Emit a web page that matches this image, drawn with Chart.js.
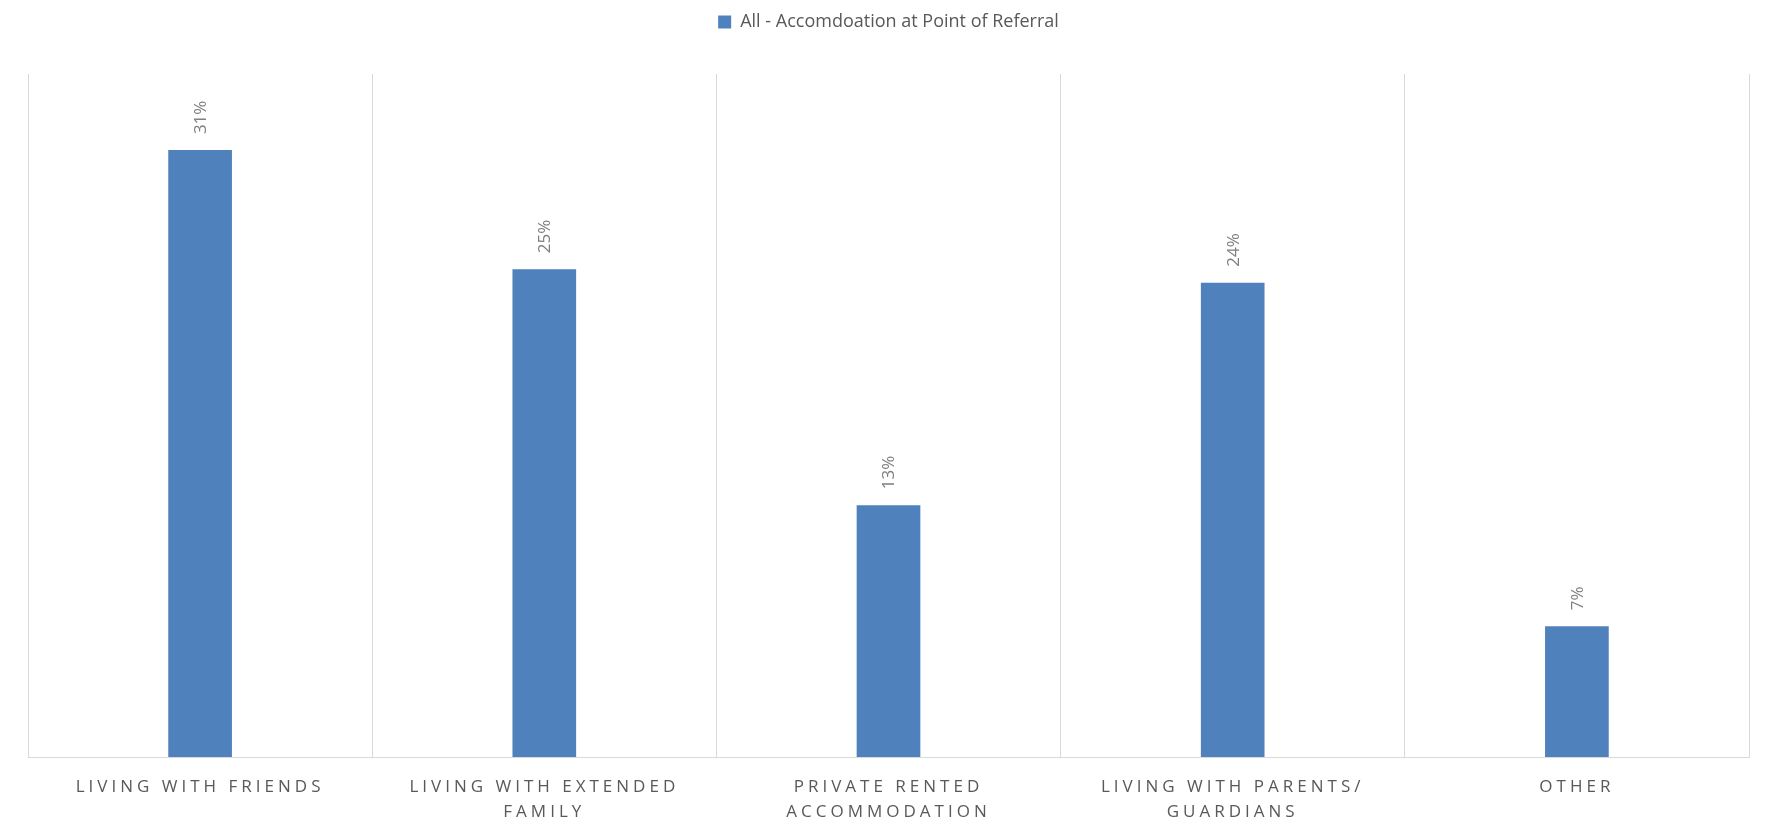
<!DOCTYPE html>
<html lang="en">
<head>
  <meta charset="UTF-8" />
  <title>Accommodation at Point of Referral</title>
  <script src="https://cdn.jsdelivr.net/npm/chart.js"></script>
  <style>
    html, body { margin: 0; padding: 0; background: #fff; overflow: hidden; }
    #wrap { width: 1766px; height: 820px; position: relative; }
  </style>
</head>
<body>

<div id="wrap">
  <canvas id="accomChart"></canvas>
</div>

<script>
// categories (wrapped onto two lines where the label is long)
const categories = [
  ['LIVING WITH FRIENDS'],
  ['LIVING WITH EXTENDED', 'FAMILY'],
  ['PRIVATE RENTED', 'ACCOMMODATION'],
  ['LIVING WITH PARENTS/', 'GUARDIANS'],
  ['OTHER']
];
const seriesName = 'All - Accomdoation at Point of Referral';
// share of referrals, in percent
const shares = [31.1, 25.0, 12.9, 24.3, 6.7];

const BAR_BLUE = '#4f81bd';
const GRID_GREY = '#d9d9d9';

// rotated value labels sitting above each bar
const barValueLabels = {
  id: 'barValueLabels',
  afterDatasetsDraw(chart) {
    const ctx = chart.ctx;
    const meta = chart.getDatasetMeta(0);
    const values = chart.data.datasets[0].data;
    ctx.save();
    ctx.font = '17px "Open Sans"';
    ctx.fillStyle = '#7f7f7f';
    ctx.textAlign = 'left';
    ctx.textBaseline = 'middle';
    meta.data.forEach((bar, i) => {
      ctx.save();
      ctx.translate(bar.x + 1, bar.y - 16);
      ctx.rotate(-Math.PI / 2);
      ctx.fillText(Math.round(values[i]) + '%', 0, 0);
      ctx.restore();
    });
    ctx.restore();
  }
};

// spaced-out capitals on the category axis, extra room under the legend
const spacedTicks = {
  id: 'spacedTicks',
  beforeLayout(chart) {
    const lg = chart.legend;
    if (lg && !lg._padded) {
      const fit = lg.fit;
      lg.fit = function () {
        fit.call(this);
        this.height += 33;
      };
      lg._padded = true;
    }
  },
  afterLayout(chart) {
    const xs = chart.scales.x;
    if (!xs || xs._spaced) return;
    const orig = xs.drawLabels;
    xs.drawLabels = function (area) {
      this.ctx.save();
      this.ctx.letterSpacing = '4px';
      orig.call(this, area);
      this.ctx.restore();
    };
    xs._spaced = true;
  }
};

new Chart(document.getElementById('accomChart'), {
  type: 'bar',
  data: {
    labels: categories,
    datasets: [{
      label: seriesName,
      data: shares,
      backgroundColor: BAR_BLUE,
      borderWidth: 0,
      barPercentage: 0.185,
      categoryPercentage: 1
    }]
  },
  options: {
    responsive: true,
    maintainAspectRatio: false,
    animation: false,
    layout: { padding: { left: 28, right: 17, top: 3, bottom: 0 } },
    scales: {
      x: {
        grid: { color: GRID_GREY, lineWidth: 1, drawTicks: false, offset: true },
        border: { color: GRID_GREY, width: 1 },
        ticks: {
          color: '#595959',
          padding: 17,
          maxRotation: 0,
          autoSkip: false,
          font: { family: '"Open Sans"', size: 17, lineHeight: 1.5 }
        },
        afterFit(scale) { scale.height = 63; }
      },
      y: {
        display: false,
        min: 0,
        max: 35
      }
    },
    plugins: {
      legend: {
        position: 'top',
        labels: {
          color: '#595959',
          boxWidth: 13,
          boxHeight: 13,
          padding: 10,
          font: { family: '"Open Sans"', size: 18 }
        }
      },
      tooltip: { enabled: false }
    }
  },
  plugins: [barValueLabels, spacedTicks]
});
</script>

</body>
</html>
